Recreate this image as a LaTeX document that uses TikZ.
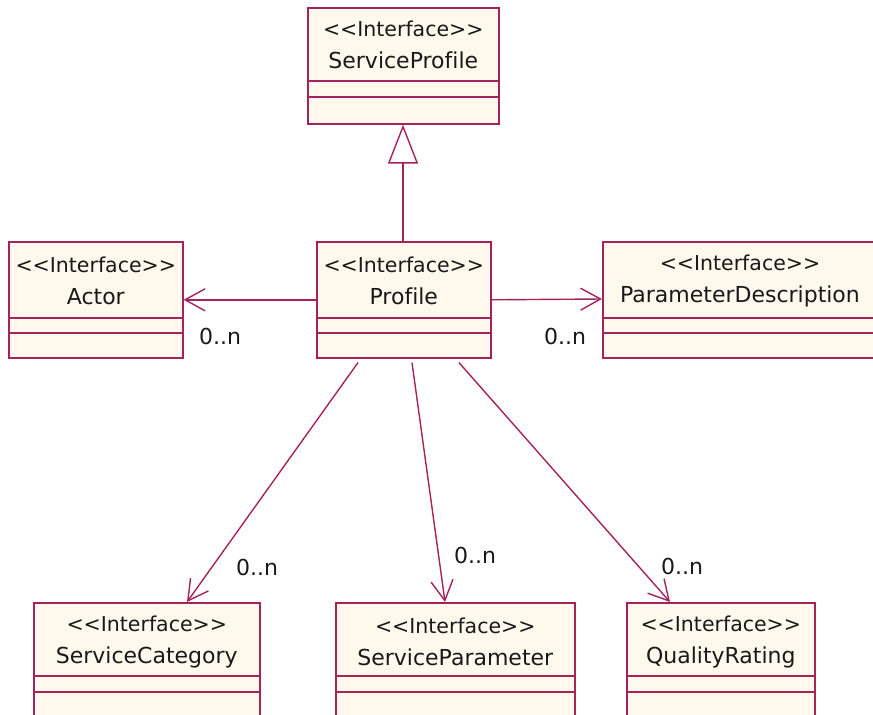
\documentclass[tikz,border=0pt]{standalone}
\usepackage{fontspec}
\setmainfont{DejaVu Sans}[Ligatures=NoCommon]
\usetikzlibrary{arrows.meta,calc}
\definecolor{umlborder}{RGB}{165,35,90}
\definecolor{umlfill}{RGB}{255,249,237}
\newcommand\stereoiface{{\fontsize{20.5}{32}\selectfont<\kern0pt<Interface>\kern0pt>}}
\tikzset{
  classbox/.style={draw=umlborder, fill=umlfill, line width=1.6pt, rectangle, inner sep=0pt, anchor=north west},
  classtext/.style={align=center, inner sep=0pt, font=\fontsize{22}{32}\selectfont, text=black!90},
  divider/.style={draw=umlborder, line width=1.6pt},
  assoc/.style={draw=umlborder, line width=1.4pt, -{Straight Barb[length=20pt,width=22pt,line width=1.4pt]}},
  gen/.style={draw=umlborder, line width=1.4pt, -{Triangle[open,length=39pt,width=30pt,line width=1.4pt,fill=white]}},
  mult/.style={inner sep=0pt, font=\fontsize{22}{24}\selectfont, text=black!90}
}
\begin{document}
\begin{tikzpicture}[x=1pt,y=-1pt]
\useasboundingbox (0,0) rectangle (873,715);
\clip (0,0) rectangle (873,715);
% ServiceProfile
\node[classbox, minimum width=191pt, minimum height=116pt] (sp) at (307,7) {};
\node[classtext] (spt) at ($(sp.north)+(0,38)$) {\stereoiface\\ServiceProfile};
\draw[divider] ($(sp.north west)+(0,74)$) -- ($(sp.north east)+(0,74)$);
\draw[divider] ($(sp.north west)+(0,90)$) -- ($(sp.north east)+(0,90)$);
% Actor
\node[classbox, minimum width=174pt, minimum height=116pt] (ac) at (8,241) {};
\node[classtext] (act) at ($(ac.north)+(0,40)$) {\stereoiface\\Actor};
\draw[divider] ($(ac.north west)+(0,77)$) -- ($(ac.north east)+(0,77)$);
\draw[divider] ($(ac.north west)+(0,92)$) -- ($(ac.north east)+(0,92)$);
% Profile
\node[classbox, minimum width=174pt, minimum height=116pt] (pr) at (316,241) {};
\node[classtext] (prt) at ($(pr.north)+(0,40)$) {\stereoiface\\Profile};
\draw[divider] ($(pr.north west)+(0,77)$) -- ($(pr.north east)+(0,77)$);
\draw[divider] ($(pr.north west)+(0,92)$) -- ($(pr.north east)+(0,92)$);
% ParameterDescription
\node[classbox, minimum width=290pt, minimum height=116pt] (pd) at (602,241) {};
\node[classtext] (pdt) at (740,281) {\stereoiface\\ParameterDescription};
\draw[divider] ($(pd.north west)+(0,77)$) -- ($(pd.north east)+(0,77)$);
\draw[divider] ($(pd.north west)+(0,92)$) -- ($(pd.north east)+(0,92)$);
% ServiceCategory
\node[classbox, minimum width=226pt, minimum height=130pt] (sc) at (33,602) {};
\node[classtext] (sct) at ($(sc.north)+(0,40)$) {\stereoiface\\ServiceCategory};
\draw[divider] ($(sc.north west)+(0,74)$) -- ($(sc.north east)+(0,74)$);
\draw[divider] ($(sc.north west)+(0,90)$) -- ($(sc.north east)+(0,90)$);
% ServiceParameter
\node[classbox, minimum width=239pt, minimum height=130pt] (spm) at (335,602) {};
\node[classtext] (spmt) at ($(spm.north)+(0,40)$) {\stereoiface\\ServiceParameter};
\draw[divider] ($(spm.north west)+(0,74)$) -- ($(spm.north east)+(0,74)$);
\draw[divider] ($(spm.north west)+(0,90)$) -- ($(spm.north east)+(0,90)$);
% QualityRating
\node[classbox, minimum width=188pt, minimum height=130pt] (qr) at (626,602) {};
\node[classtext] (qrt) at ($(qr.north)+(0,40)$) {\stereoiface\\QualityRating};
\draw[divider] ($(qr.north west)+(0,74)$) -- ($(qr.north east)+(0,74)$);
\draw[divider] ($(qr.north west)+(0,90)$) -- ($(qr.north east)+(0,90)$);
% connectors
\draw[gen] ($(pr.north west)+(87,0)$) -- ($(sp.south west)+(96,0)$);
\draw[assoc] (pr.west) -- (ac.east);
\draw[assoc] (pr.east) -- ($(pd.north west)+(0,58)$);
\draw[assoc] ($(pr.south west)+(42,4)$) -- ($(sc.north west)+(154,0)$);
\draw[assoc] ($(pr.south west)+(96,4)$) -- ($(spm.north west)+(110,0)$);
\draw[assoc] ($(pr.south west)+(143,4)$) -- ($(qr.north west)+(44,0)$);
% multiplicities
\node[mult] (m1) at (220,336) {0..n};
\node[mult] (m2) at (565,336) {0..n};
\node[mult] (m3) at (257,567) {0..n};
\node[mult] (m4) at (475,555) {0..n};
\node[mult] (m5) at (682,566) {0..n};
\end{tikzpicture}
\end{document}
